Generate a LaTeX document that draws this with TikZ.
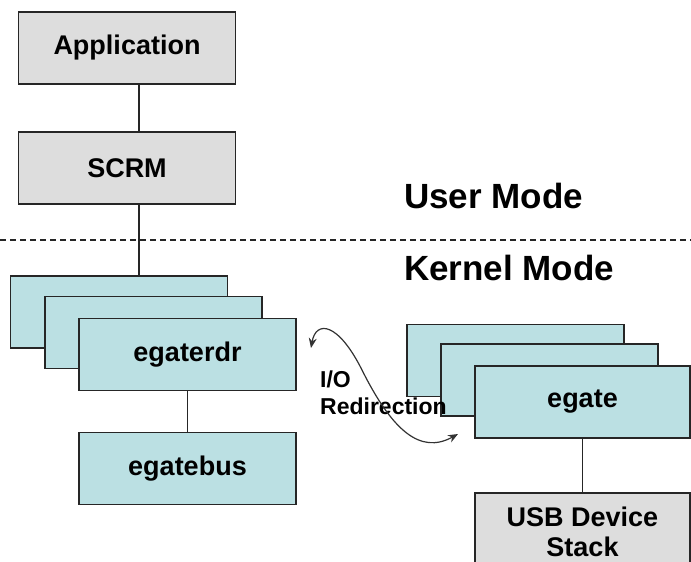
\documentclass[tikz,border=0pt]{standalone}
\usepackage{fontspec}
\setmainfont{Liberation Sans}
\usetikzlibrary{arrows.meta}
\definecolor{boxgrey}{HTML}{DDDDDD}
\definecolor{boxteal}{HTML}{BBE0E3}
\tikzset{
  box/.style={draw=black!85, line width=1.6pt, minimum width=217pt, minimum height=72pt, inner sep=0pt,
    align=center, font=\fontsize{27}{31}\selectfont\bfseries},
  greybox/.style={box, fill=boxgrey},
  tealbox/.style={box, fill=boxteal},
  link/.style={draw=black!85, line width=1.6pt},
  modelabel/.style={anchor=base west, inner sep=0pt, font=\fontsize{35}{38}\selectfont\bfseries},
  iolabel/.style={anchor=north west, inner sep=0pt, align=left, font=\fontsize{23}{27}\selectfont\bfseries},
}
\begin{document}
\begin{tikzpicture}[x=1pt,y=-1pt]
\useasboundingbox (0,0) rectangle (691,562);
% user space
\node[greybox] (app) at (127,48) {Application};
\node[greybox] (scrm) at (127,168) {SCRM};
\draw[link] ([xshift=12pt]app.south) -- ([xshift=12pt]scrm.north);
% mode separator
\draw[black!85, line width=1.1pt, dash pattern=on 6pt off 4pt] (0,240) -- (691,240);
\node[modelabel] (user) at (404,208) {User Mode};
\node[modelabel] (kernel) at (404,280) {Kernel Mode};
% left stack
\node[tealbox] (l1) at (119,312) {};
\node[tealbox] (l2) at (153.5,332.5) {};
\node[tealbox] (rdr) at (187.5,354.5) {egaterdr};
\node[tealbox] (bus) at (187.5,468.5) {egatebus};
\draw[link] ([xshift=12pt]scrm.south) -- ([xshift=20pt]l1.north);
\draw[link] (rdr.south) -- (bus.north);
% right stack
\node[tealbox] (r1) at (515.5,360.5) {};
\node[tealbox] (r2) at (549.5,380) {};
\node[tealbox, minimum width=215pt] (egate) at (582.5,402) {egate};
\node[greybox, minimum width=215pt, minimum height=78pt, anchor=north] (usb) at (582.5,492)
  {USB Device\\[-1pt]Stack};
\draw[link] (egate.south) -- (usb.north);
% I/O redirection
\node[iolabel] (io) at (320,371) {I/O\\Redirection};
\coordinate (ioA) at (311,348);
\coordinate (ioB) at (458,434);
\draw[black!80, line width=1.2pt, {Stealth[length=10pt,width=8pt]}-{Stealth[length=10pt,width=8pt]}]
  (ioA) .. controls (316,320) and (338,322) .. (362,370)
        .. controls (392,430) and (420,455) .. (ioB);
\end{tikzpicture}
\end{document}
